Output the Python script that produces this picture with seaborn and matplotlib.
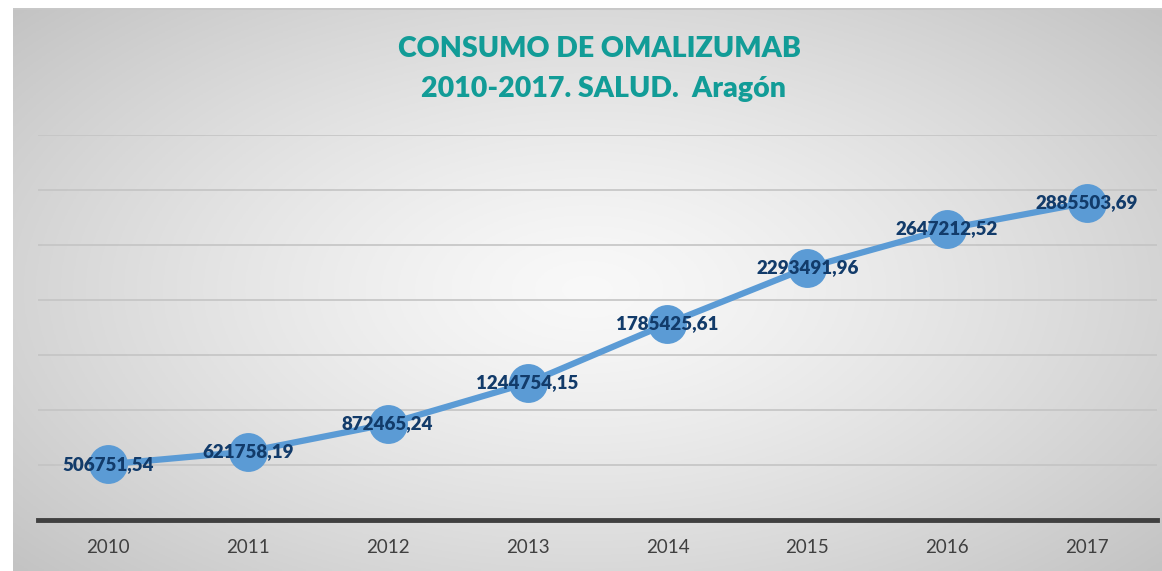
import numpy as np
import pandas as pd
import matplotlib
matplotlib.use('Agg')
import matplotlib.pyplot as plt
import seaborn as sns

# data
years = ['2010', '2011', '2012', '2013', '2014', '2015', '2016', '2017']
consumo = [506751.54, 621758.19, 872465.24, 1244754.15, 1785425.61,
           2293491.96, 2647212.52, 2885503.69]
etiquetas = ['506751,54', '621758,19', '872465,24', '1244754,15', '1785425,61',
             '2293491,96', '2647212,52', '2885503,69']

df = pd.DataFrame({'Año': years, 'Consumo': consumo})

sns.set_theme(style='white')
plt.rcParams['font.family'] = ['Lato', 'DejaVu Sans']

W, H = 1162, 571
fig = plt.figure(figsize=(W / 100, H / 100), dpi=100)
fig.patch.set_facecolor('white')

# background panel with radial gradient
bg = fig.add_axes([13 / W, 0, 1 - 13 / W, (H - 8) / H], zorder=0)
gx, gy = np.meshgrid(np.linspace(-1, 1, 400), np.linspace(-1, 1, 200))
r = np.sqrt(gx ** 2 + (gy * 0.9) ** 2) / np.sqrt(1 + 0.81)
shade = 0.975 - 0.21 * r ** 1.3
bg.imshow(np.dstack([shade] * 3), aspect='auto', extent=[0, 1, 0, 1])
bg.set_xlim(0, 1)
bg.set_ylim(0, 1)
bg.axhline(1, color='#c8c8c8', lw=2)
bg.axis('off')

ax = fig.add_axes([38 / W, (H - 520) / H, (1157 - 38) / W, (520 - 135) / H], zorder=2)
ax.patch.set_alpha(0)

sns.lineplot(data=df, x='Año', y='Consumo', ax=ax, color='#5b9bd5', lw=4.5,
             marker='o', markersize=28, markeredgewidth=0, sort=False)

for i, (v, t) in enumerate(zip(consumo, etiquetas)):
    ax.text(i, v, t, ha='center', va='center', fontsize=13.5, fontweight='heavy',
            color='#123b6a', zorder=5)

ax.set_xlim(-0.5, len(years) - 0.5)
ax.set_ylim(0, 3500000)
ax.set_yticks(np.arange(0, 3500001, 500000))
ax.set_yticklabels([])
ax.tick_params(axis='y', length=0)
ax.tick_params(axis='x', length=0, labelsize=13.5, labelcolor='#404040', pad=14)
ax.grid(axis='y', color='#c4c4c4', lw=1.2)
ax.set_axisbelow(True)
for s in ['top', 'right', 'left']:
    ax.spines[s].set_visible(False)
ax.spines['bottom'].set_color('#404040')
ax.spines['bottom'].set_linewidth(3.5)
ax.set_xlabel('')
ax.set_ylabel('')

fig.text(0.516, 0.915, 'CONSUMO DE OMALIZUMAB', ha='center', va='center',
         fontsize=20.5, fontweight='heavy', color='#129c97')
fig.text(0.519, 0.845, '2010-2017. SALUD.  Aragón', ha='center', va='center',
         fontsize=20.5, fontweight='heavy', color='#129c97')

fig.savefig('out.png', dpi=100)
